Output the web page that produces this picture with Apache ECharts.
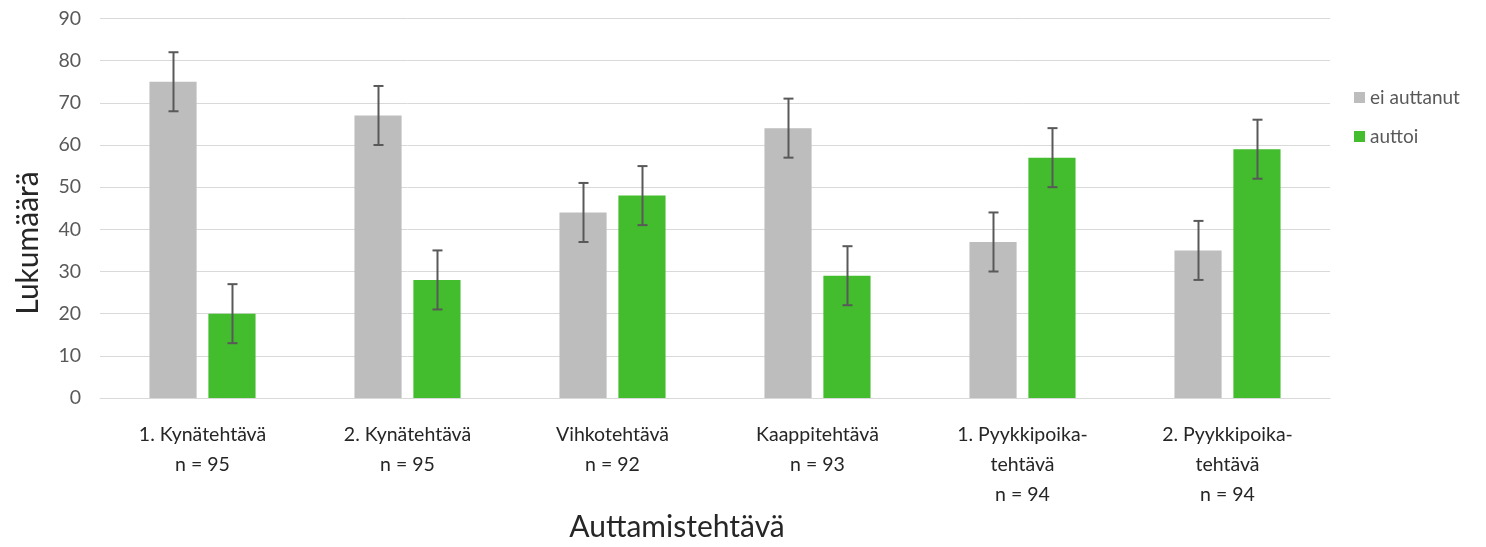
<!DOCTYPE html>
<html>
<head>
<meta charset="utf-8">
<script src="https://cdn.jsdelivr.net/npm/echarts@6/dist/echarts.min.js"></script>
<style>
  html, body { margin: 0; padding: 0; background: #fff; }
  #chart { width: 1486px; height: 547px; }
</style>
</head>
<body>
<div id="chart"></div>
<script>
// Helping tasks and sample sizes
const tasks = ['1. Kynätehtävä', '2. Kynätehtävä', 'Vihkotehtävä', 'Kaappitehtävä', '1. Pyykkipoika-\ntehtävä', '2. Pyykkipoika-\ntehtävä'];
const sampleSizes = [95, 95, 92, 93, 94, 94];

// Counts per outcome
const eiAuttanut = [75, 67, 44, 64, 37, 35];
const auttoi = [20, 28, 48, 29, 57, 59];

// Error bar half-lengths
const errEiAuttanut = [7, 7, 7, 7, 7, 7];
const errAuttoi = [7, 7, 7, 7, 7, 7];

const yTicks = [0, 10, 20, 30, 40, 50, 60, 70, 80, 90];

const FONT = 'Lato, "Noto Sans", sans-serif';
const BAR_W = 0.23;   // share of category band
const BAR_GAP = 0.25; // share of bar width
const COLORS = ['#BDBDBD', '#43BC2D'];

const categories = tasks.map((t, i) => t + '\nn = ' + sampleSizes[i]);

function errorSeries(values, errs, side) {
  return {
    type: 'custom',
    z: 10,
    silent: true,
    data: values.map((v, i) => [i, v, errs[i]]),
    renderItem: function (params, api) {
      const idx = api.value(0);
      const v = api.value(1);
      const e = api.value(2);
      const band = api.size([1, 0])[0];
      const bw = band * BAR_W;
      const gap = bw * BAR_GAP;
      const off = side * (bw + gap) / 2;
      const top = api.coord([idx, v + e]);
      const bot = api.coord([idx, v - e]);
      const x = Math.round(top[0] + off) + 0.5;
      const cap = 5;
      const style = { stroke: '#595959', lineWidth: 2 };
      return {
        type: 'group',
        children: [
          { type: 'line', shape: { x1: x, y1: top[1], x2: x, y2: bot[1] }, style: style },
          { type: 'line', shape: { x1: x - cap, y1: top[1], x2: x + cap, y2: top[1] }, style: style },
          { type: 'line', shape: { x1: x - cap, y1: bot[1], x2: x + cap, y2: bot[1] }, style: style }
        ]
      };
    }
  };
}

const chart = echarts.init(document.getElementById('chart'), null, { renderer: 'canvas' });

chart.setOption({
  animation: false,
  backgroundColor: '#ffffff',
  grid: { left: 100, right: 156, top: 18.5, bottom: 149, containLabel: false },
  legend: {
    orient: 'vertical',
    left: 1349,
    top: 83,
    itemWidth: 11,
    itemHeight: 11,
    itemGap: 20,
    icon: 'rect',
    textStyle: { color: '#595959', fontSize: 19, fontFamily: FONT },
    data: ['ei auttanut', 'auttoi']
  },
  xAxis: {
    type: 'category',
    data: categories,
    axisLine: { show: true, lineStyle: { color: '#D9D9D9', width: 1 } },
    axisTick: { show: false },
    axisLabel: {
      color: '#262626',
      fontSize: 19.5,
      fontFamily: FONT,
      lineHeight: 30,
      margin: 22,
      interval: 0
    }
  },
  yAxis: {
    type: 'value',
    min: yTicks[0],
    max: yTicks[yTicks.length - 1],
    interval: yTicks[1] - yTicks[0],
    axisLine: { show: false },
    axisTick: { show: false },
    axisLabel: { color: '#595959', fontSize: 19.5, fontFamily: FONT, margin: 19 },
    splitLine: { lineStyle: { color: '#D9D9D9', width: 1 } }
  },
  graphic: [
    {
      type: 'text',
      x: 28,
      y: 243,
      rotation: Math.PI / 2,
      style: {
        text: 'Lukumäärä',
        fill: '#262626',
        font: '30px ' + FONT,
        textAlign: 'center',
        textVerticalAlign: 'middle'
      }
    },
    {
      type: 'text',
      x: 677,
      y: 527,
      style: {
        text: 'Auttamistehtävä',
        fill: '#262626',
        font: '30px ' + FONT,
        textAlign: 'center',
        textVerticalAlign: 'middle'
      }
    }
  ],
  series: [
    {
      name: 'ei auttanut',
      type: 'bar',
      data: eiAuttanut,
      barWidth: (BAR_W * 100) + '%',
      barGap: (BAR_GAP * 100) + '%',
      itemStyle: { color: COLORS[0] }
    },
    {
      name: 'auttoi',
      type: 'bar',
      data: auttoi,
      barWidth: (BAR_W * 100) + '%',
      barGap: (BAR_GAP * 100) + '%',
      itemStyle: { color: COLORS[1] }
    },
    errorSeries(eiAuttanut, errEiAuttanut, -1),
    errorSeries(auttoi, errAuttoi, 1)
  ]
});
</script>
</body>
</html>
